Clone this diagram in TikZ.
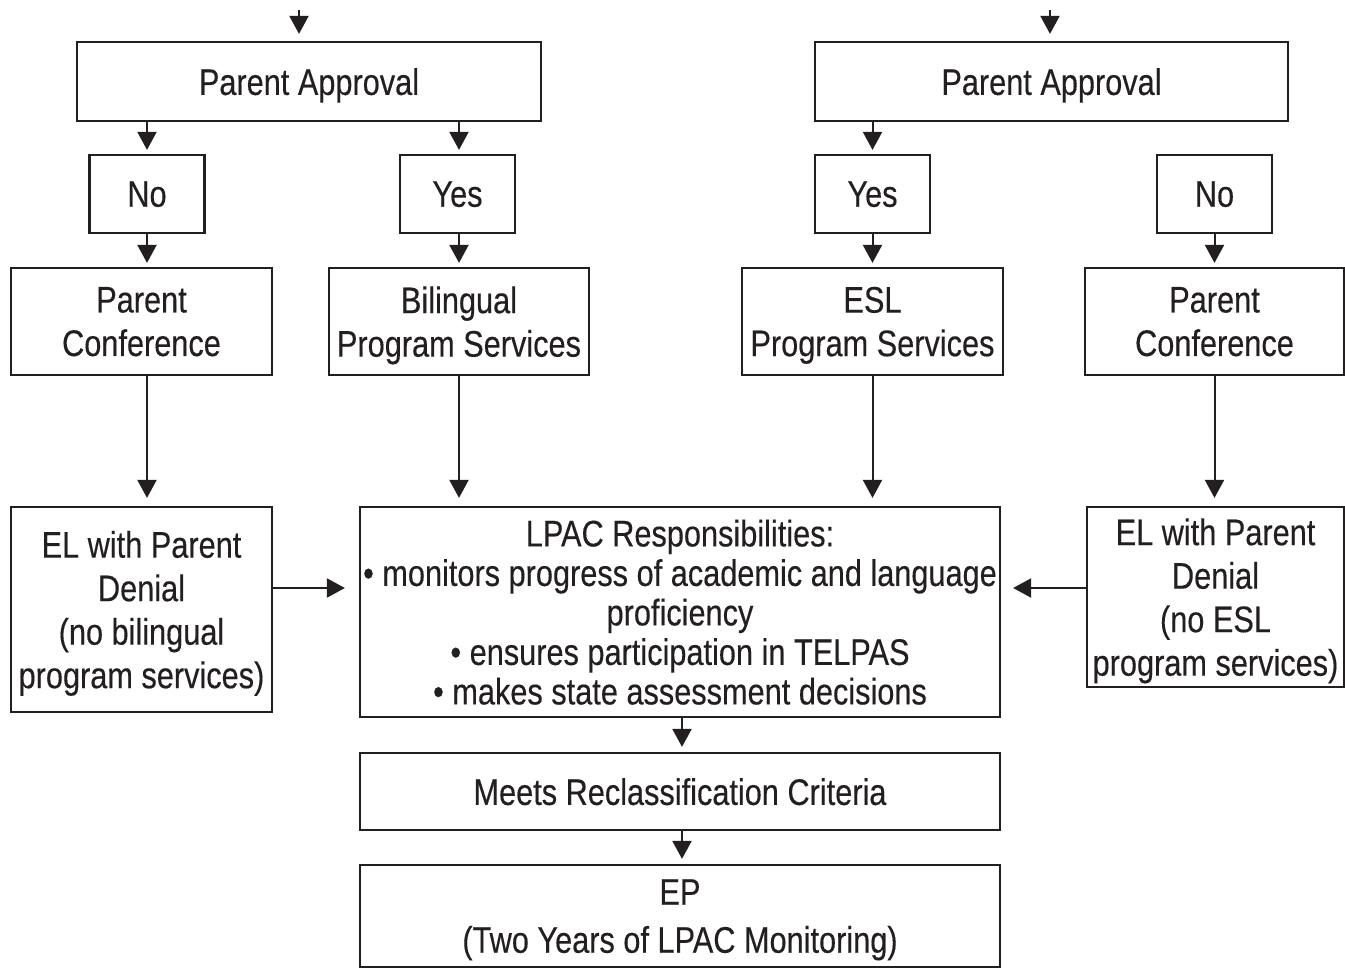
\documentclass[tikz,border=0pt]{standalone}
\usepackage{fontspec}
\setmainfont{Liberation Sans}[FakeStretch=0.83,FakeBold=0.3]
\usepackage{tikz}
\usetikzlibrary{arrows.meta,positioning,calc}
\definecolor{ink}{RGB}{35,31,32}

\begin{document}
\begin{tikzpicture}[
  x=1pt,y=-1pt,
  box/.style={draw=ink,line width=2.2pt,inner sep=0pt,align=center,text=ink,
    text depth=0pt,font=\fontsize{37}{43.5}\selectfont},
  arrow/.style={-{Triangle[length=18pt,width=19pt]},line width=2pt,draw=ink,
    shorten >=6pt},
]
  \useasboundingbox (0,0) rectangle (1345,969);

  % top row
  \node[box,minimum width=464pt,minimum height=79pt] (apprL) at (309,81.5)
    {Parent Approval};
  \node[box,minimum width=473pt,minimum height=79pt] (apprR) at (1051.5,81.5)
    {Parent Approval};
  \coordinate (inL) at (299,10);
  \coordinate (inR) at (1050,10);

  % yes / no
  \node[box,minimum width=115pt,minimum height=78pt] (noL) at (147,194) {No};
  \node[box,minimum width=115pt,minimum height=78pt] (yesL) at (457.5,194) {Yes};
  \node[box,minimum width=115pt,minimum height=78pt] (yesR) at (872.5,194) {Yes};
  \node[box,minimum width=115pt,minimum height=78pt] (noR) at (1214.5,194) {No};

  % third row
  \node[box,minimum width=261pt,minimum height=107pt] (confL) at (141.5,321.5)
    {Parent\\Conference};
  \node[box,minimum width=260pt,minimum height=107pt] (bil) at (459,321.5)
    {Bilingual\\Program Services};
  \node[box,minimum width=261pt,minimum height=107pt] (esl) at (872.5,321.5)
    {ESL\\Program Services};
  \node[box,minimum width=259pt,minimum height=107pt] (confR) at (1214.5,321.5)
    {Parent\\Conference};

  % fourth row
  \node[box,minimum width=261pt,minimum height=205pt] (denL) at (141.5,609.5)
    {EL with Parent\\Denial\\(no bilingual\\program services)};
  \node[box,minimum width=640pt,minimum height=210pt,
    font=\fontsize{37}{39.5}\selectfont] (lpac) at (680,612)
    {LPAC Responsibilities:\\
     \textbullet\ monitors progress of academic and language\\
     proficiency\\
     \textbullet\ ensures participation in TELPAS\\
     \textbullet\ makes state assessment decisions};
  \node[box,minimum width=257pt,minimum height=180pt] (denR) at (1215.5,597)
    {EL with Parent\\Denial\\(no ESL\\program services)};
  \coordinate (side) at (0,588);

  % bottom
  \node[box,minimum width=640pt,minimum height=77pt] (meets) at (680,791.5)
    {Meets Reclassification Criteria};
  \node[box,minimum width=640pt,minimum height=102pt,
    font=\fontsize{37}{48}\selectfont] (ep) at (680,916)
    {EP\\(Two Years of LPAC Monitoring)};

  \draw[arrow,shorten >=7pt] (inL) -- (inL |- apprL.north);
  \draw[arrow,shorten >=7pt] (inR) -- (inR |- apprR.north);
  \draw[arrow,shorten >=4pt] (apprL.south -| noL) -- (noL.north);
  \draw[arrow,shorten >=4pt] ([xshift=1.5pt]apprL.south -| yesL) -- ([xshift=1.5pt]yesL.north);
  \draw[arrow,shorten >=4pt] (apprR.south -| yesR) -- (yesR.north);
  \draw[arrow,shorten >=4pt] (noL.south) -- (noL.south |- confL.north);
  \draw[arrow,shorten >=4pt] ([xshift=1.5pt]yesL.south) -- ([xshift=1.5pt]yesL.south |- bil.north);
  \draw[arrow,shorten >=4pt] (yesR.south) -- (yesR.south |- esl.north);
  \draw[arrow,shorten >=4pt] (noR.south) -- (noR.south |- confR.north);
  \draw[arrow,shorten >=8pt] (confL.south -| noL) -- (noL |- denL.north);
  \draw[arrow,shorten >=8pt] (bil.south) -- (bil.south |- lpac.north);
  \draw[arrow,shorten >=8pt] (esl.south) -- (esl.south |- lpac.north);
  \draw[arrow,shorten >=8pt] (confR.south -| noR) -- (noR |- denR.north);
  \draw[arrow,shorten >=14pt] (denL.east |- side) -- (lpac.west |- side);
  \draw[arrow,shorten >=12pt] (denR.west |- side) -- (lpac.east |- side);
  \draw[arrow,shorten >=5pt] ([xshift=2pt]lpac.south) -- ([xshift=2pt]meets.north);
  \draw[arrow,shorten >=5pt] ([xshift=2pt]meets.south) -- ([xshift=2pt]ep.north);
\end{tikzpicture}
\end{document}
